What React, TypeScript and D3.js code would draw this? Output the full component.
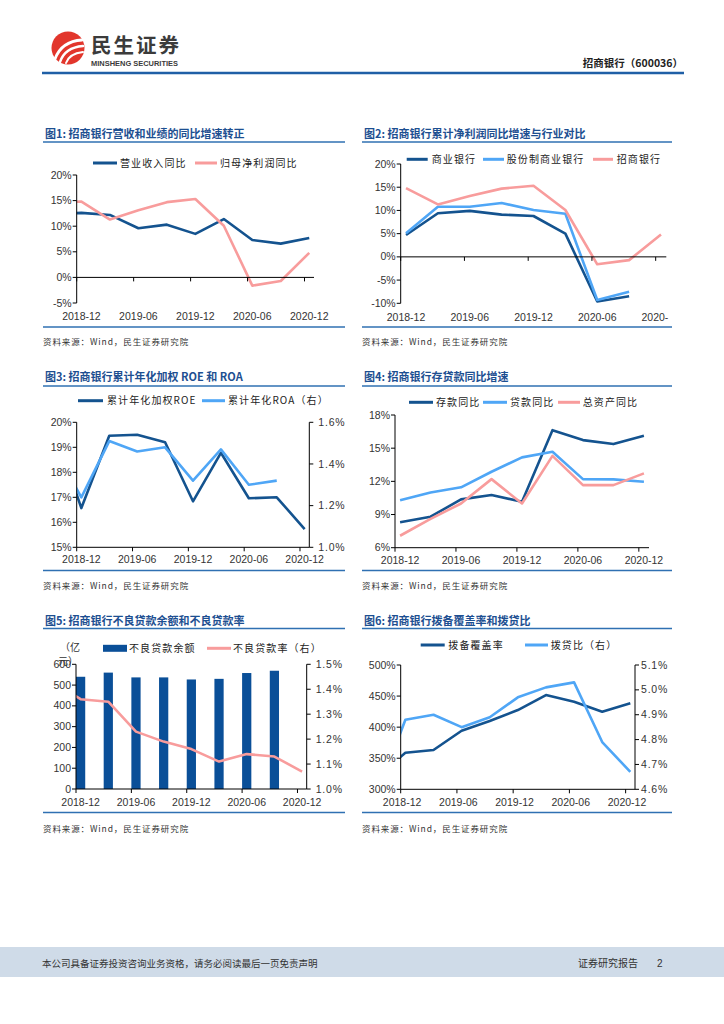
import React, { useEffect } from 'react';
import * as d3 from 'd3';

// quarter ends, 2018-09 is only partly visible (clipped at the axis)
const quarters = ['2018-09', '2018-12', '2019-03', '2019-06', '2019-09', '2019-12', '2020-03', '2020-06', '2020-09', '2020-12'];
const xTickLabels = ['2018-12', '2019-06', '2019-12', '2020-06', '2020-12'];

// Fig 1 (%)
const revenueYoY = [12.4, 12.6, 12.2, 9.6, 10.3, 8.5, 11.4, 7.3, 6.6, 7.7];
const netProfitYoY = [14.6, 14.8, 11.3, 13.1, 14.7, 15.3, 10.1, -1.6, -0.7, 4.8];
const fig1Ticks = [-5, 0, 5, 10, 15, 20];

// Fig 2 (%), from 2018-12
const banksYoY = [4.7, 9.4, 9.9, 9.1, 8.8, 5.0, -9.6, -8.5];
const jointStockYoY = [5.1, 10.8, 10.8, 11.6, 10.1, 9.3, -9.3, -7.5];
const cmbYoY = [14.8, 11.3, 13.1, 14.7, 15.3, 10.1, -1.6, -0.7, 4.8];
const fig2Ticks = [-10, -5, 0, 5, 10, 15, 20];

// Fig 3 (%)
const roe = [19.8, 16.57, 19.46, 19.5, 19.2, 16.84, 18.78, 16.96, 17.0, 15.73];
const roa = [1.48, 1.24, 1.51, 1.46, 1.48, 1.32, 1.47, 1.30, 1.32];
const roeTicks = [15, 16, 17, 18, 19, 20];
const roaTicks = [1.0, 1.2, 1.4, 1.6];

// Fig 4 (%), from 2018-12
const depositYoY = [8.3, 8.8, 10.37, 10.76, 10.16, 16.63, 15.73, 15.37, 16.12];
const loanYoY = [10.3, 11.0, 11.46, 12.87, 14.17, 14.67, 12.2, 12.18, 11.96];
const assetYoY = [7.08, 8.6, 10.0, 12.2, 10.0, 14.3, 11.66, 11.66, 12.72];
const fig4Ticks = [6, 9, 12, 15, 18];

// Fig 5: NPL balance (亿元, from 2018-12) and NPL ratio (%)
const nplBalance = [540, 560, 537, 537, 527, 530, 558, 569];
const nplRatio = [1.43, 1.36, 1.35, 1.23, 1.19, 1.16, 1.11, 1.14, 1.13, 1.07];
const nplTicks = [0, 100, 200, 300, 400, 500, 600];
const nplRatioTicks = [1.0, 1.1, 1.2, 1.3, 1.4, 1.5];

// Fig 6 (%)
const coverage = [320, 358.8, 363.2, 394.2, 409.8, 427.5, 451.6, 440.8, 424.8, 438.3];
const provisionToLoan = [4.58, 4.88, 4.9, 4.85, 4.89, 4.97, 5.01, 5.03, 4.79, 4.67];
const coverageTicks = [300, 350, 400, 450, 500];
const provisionTicks = [4.6, 4.7, 4.8, 4.9, 5.0, 5.1];

const NUM = '"Liberation Sans", Arial, sans-serif';
const CJK = '"Noto Sans CJK SC", "Noto Sans", sans-serif';
const NAVY = '#14538f';
const SKY = '#4fa6f6';
const PINK = '#f89c9c';
const BAR = '#0a4f98';
const RULE = '#2f70b2';
const TITLE = '#1d4f91';

const monthIndex = (q: string) => {
  const [y, m] = q.split('-').map(Number);
  return (y - 2018) * 12 + (m - 12);
};

type Series = { values: number[]; from: string; color: string; right?: boolean };
type LegendItem = { label: string; color: string; x: number; w: number; tx: number; bar?: boolean };
type Cfg = {
  id: string;
  left: number; right: number;
  title: string; titleY: number; ruleY: number; bottomY: number; sourceY: number;
  legendY: number; legend: LegendItem[];
  x0: number; x1: number; yTop: number; yBot: number;
  yTicks: number[]; yFmt: (v: number) => string;
  rTicks?: number[]; rFmt?: (v: number) => string; rGap?: number;
  zeroAxis?: boolean;
  series: Series[];
  bars?: { values: number[]; from: string; color: string };
  xLabelY: number; labelShift: number; truncateLast?: boolean;
  unit?: boolean;
};

const pct0 = (v: number) => `${v}%`;
const pct1 = (v: number) => `${v.toFixed(1)}%`;

const charts: Cfg[] = [
  {
    id: 'c1', left: 43, right: 345,
    title: '图1: 招商银行营收和业绩的同比增速转正', titleY: 137.5, ruleY: 142, bottomY: 327, sourceY: 344.5,
    legendY: 163,
    legend: [
      { label: '营业收入同比', color: NAVY, x: 93, w: 24, tx: 120 },
      { label: '归母净利润同比', color: PINK, x: 195, w: 22, tx: 220 },
    ],
    x0: 76.7, x1: 314, yTop: 175, yBot: 303, yTicks: fig1Ticks, yFmt: pct0, zeroAxis: true,
    series: [
      { values: revenueYoY, from: '2018-09', color: NAVY },
      { values: netProfitYoY, from: '2018-09', color: PINK },
    ],
    xLabelY: 319.5, labelShift: 0.5,
  },
  {
    id: 'c2', left: 362, right: 672,
    title: '图2: 招商银行累计净利润同比增速与行业对比', titleY: 137.5, ruleY: 142, bottomY: 327, sourceY: 344.5,
    legendY: 159.3,
    legend: [
      { label: '商业银行', color: NAVY, x: 406.7, w: 21, tx: 431.7 },
      { label: '股份制商业银行', color: SKY, x: 483, w: 21, tx: 506.7 },
      { label: '招商银行', color: PINK, x: 593, w: 20, tx: 616.7 },
    ],
    x0: 400.7, x1: 666.3, yTop: 164, yBot: 303.3, yTicks: fig2Ticks, yFmt: pct0, zeroAxis: true,
    series: [
      { values: banksYoY, from: '2018-12', color: NAVY },
      { values: jointStockYoY, from: '2018-12', color: SKY },
      { values: cmbYoY, from: '2018-12', color: PINK },
    ],
    xLabelY: 321, labelShift: 0.5, truncateLast: true,
  },
  {
    id: 'c3', left: 43, right: 345,
    title: '图3: 招商银行累计年化加权 ROE 和 ROA', titleY: 381, ruleY: 386, bottomY: 570.5, sourceY: 588.5,
    legendY: 400.7,
    legend: [
      { label: '累计年化加权ROE', color: NAVY, x: 78, w: 25, tx: 107 },
      { label: '累计年化ROA（右）', color: SKY, x: 202, w: 23, tx: 228 },
    ],
    x0: 76.7, x1: 309.3, yTop: 422.3, yBot: 547.3, yTicks: roeTicks, yFmt: pct0,
    rTicks: roaTicks, rFmt: pct1, rGap: 9,
    series: [
      { values: roe, from: '2018-09', color: NAVY },
      { values: roa, from: '2018-09', color: SKY, right: true },
    ],
    xLabelY: 563, labelShift: 0.5,
  },
  {
    id: 'c4', left: 362, right: 672,
    title: '图4: 招商银行存贷款同比增速', titleY: 381, ruleY: 386, bottomY: 570.5, sourceY: 588.5,
    legendY: 402.3,
    legend: [
      { label: '存款同比', color: NAVY, x: 409, w: 24, tx: 436 },
      { label: '贷款同比', color: SKY, x: 483, w: 24, tx: 510 },
      { label: '总资产同比', color: PINK, x: 558, w: 22, tx: 582.7 },
    ],
    x0: 395, x1: 649, yTop: 415, yBot: 547.7, yTicks: fig4Ticks, yFmt: pct0,
    series: [
      { values: depositYoY, from: '2018-12', color: NAVY },
      { values: loanYoY, from: '2018-12', color: SKY },
      { values: assetYoY, from: '2018-12', color: PINK },
    ],
    xLabelY: 564, labelShift: 0.5,
  },
  {
    id: 'c5', left: 43, right: 345,
    title: '图5: 招商银行不良贷款余额和不良贷款率', titleY: 625, ruleY: 628.5, bottomY: 812.5, sourceY: 832,
    legendY: 648.3,
    legend: [
      { label: '不良贷款余额', color: BAR, x: 103, w: 24, tx: 129, bar: true },
      { label: '不良贷款率（右）', color: PINK, x: 207, w: 24, tx: 233 },
    ],
    x0: 76, x1: 306.7, yTop: 664.3, yBot: 789, yTicks: nplTicks, yFmt: (v) => `${v}`,
    rTicks: nplRatioTicks, rFmt: pct1, rGap: 9,
    bars: { values: nplBalance, from: '2018-12', color: BAR },
    series: [{ values: nplRatio, from: '2018-09', color: PINK, right: true }],
    xLabelY: 805.5, labelShift: 0.5, unit: true,
  },
  {
    id: 'c6', left: 362, right: 672,
    title: '图6: 招商银行拨备覆盖率和拨贷比', titleY: 625, ruleY: 628.5, bottomY: 812.5, sourceY: 832,
    legendY: 645,
    legend: [
      { label: '拨备覆盖率', color: NAVY, x: 420.7, w: 24, tx: 448.3 },
      { label: '拨贷比（右）', color: SKY, x: 525, w: 23, tx: 550.7 },
    ],
    x0: 400.7, x1: 635, yTop: 665, yBot: 789.3, yTicks: coverageTicks, yFmt: pct0,
    rTicks: provisionTicks, rFmt: pct1, rGap: 6,
    series: [
      { values: coverage, from: '2018-09', color: NAVY },
      { values: provisionToLoan, from: '2018-09', color: SKY, right: true },
    ],
    xLabelY: 805.5, labelShift: 0.15,
  },
];

const Chart: React.FC<{ c: Cfg }> = ({ c }) => {
  const xs = d3.scaleLinear().domain([0, 25]).range([c.x0, c.x1]);
  const ys = d3.scaleLinear().domain(d3.extent(c.yTicks) as [number, number]).range([c.yBot, c.yTop]);
  const yr = c.rTicks
    ? d3.scaleLinear().domain(d3.extent(c.rTicks) as [number, number]).range([c.yBot, c.yTop])
    : ys;
  const axisY = c.zeroAxis ? ys(0) : c.yBot;
  const clipId = `clip-${c.id}`;
  const start = (q: string) => quarters.indexOf(q);

  const paths = c.series.map((s) => {
    const sc = s.right ? yr : ys;
    const pts = s.values.map((v, i) => [monthIndex(quarters[start(s.from) + i]) + 0.5, v] as [number, number]);
    const line = d3.line<[number, number]>().x((d) => xs(d[0])).y((d) => sc(d[1]));
    return { d: line(pts) || '', color: s.color };
  });

  const tickMonths = xTickLabels.map(monthIndex);

  return (
    <g>
      <defs>
        <clipPath id={clipId}>
          <rect x={c.x0} y={c.yTop - 20} width={c.x1 - c.x0} height={c.yBot - c.yTop + 40} />
        </clipPath>
      </defs>
      {/* title and rules */}
      <text x={c.left + 2} y={c.titleY} fontFamily={CJK} fontSize={11} fontWeight={700} fill={TITLE}>{c.title}</text>
      <line x1={c.left} x2={c.right} y1={c.ruleY} y2={c.ruleY} stroke={RULE} strokeWidth={1.5} />
      <line x1={c.left} x2={c.right} y1={c.bottomY} y2={c.bottomY} stroke={RULE} strokeWidth={1.5} />
      <text x={c.left} y={c.sourceY} fontFamily={CJK} fontSize={8.5} fill="#333" letterSpacing={0.9}>资料来源：Wind，民生证券研究院</text>

      {/* legend */}
      {c.legend.map((l) => (
        <g key={l.label}>
          {l.bar
            ? <rect x={l.x} y={c.legendY - 3.5} width={l.w} height={7} fill={l.color} />
            : <line x1={l.x} x2={l.x + l.w} y1={c.legendY} y2={c.legendY} stroke={l.color} strokeWidth={3} />}
          <text x={l.tx} y={c.legendY + 3.6} fontFamily={CJK} fontSize={10} fill="#222" letterSpacing={1.1}>{l.label}</text>
        </g>
      ))}

      {/* bars */}
      {c.bars && c.bars.values.map((v, i) => {
        const m = monthIndex(quarters[start(c.bars!.from) + i]);
        return <rect key={i} x={xs(m)} y={ys(v)} width={xs(m + 1) - xs(m)} height={ys(0) - ys(v)} fill={c.bars!.color} />;
      })}

      {/* lines */}
      <g clipPath={`url(#${clipId})`}>
        {paths.map((p, i) => (
          <path key={i} d={p.d} fill="none" stroke={p.color} strokeWidth={2.6} strokeLinejoin="round" strokeLinecap="butt" />
        ))}
      </g>

      {/* left axis */}
      <line x1={c.x0} x2={c.x0} y1={c.yTop} y2={c.yBot} stroke="#000" strokeWidth={1} />
      {c.yTicks.map((t) => (
        <g key={`l${t}`}>
          <line x1={c.x0 - 4} x2={c.x0} y1={ys(t)} y2={ys(t)} stroke="#000" />
          <text x={c.x0 - 5} y={ys(t) + 3.6} textAnchor="end" fontFamily={NUM} fontSize={10.5} fill="#333">{c.yFmt(t)}</text>
        </g>
      ))}

      {/* right axis */}
      {c.rTicks && (
        <g>
          <line x1={c.x1} x2={c.x1} y1={c.yTop} y2={c.yBot} stroke="#000" strokeWidth={1} />
          {c.rTicks.map((t) => (
            <g key={`r${t}`}>
              <line x1={c.x1} x2={c.x1 + 4} y1={yr(t)} y2={yr(t)} stroke="#000" />
              <text x={c.x1 + (c.rGap || 8)} y={yr(t) + 3.6} fontFamily={NUM} fontSize={10.5} fill="#333" letterSpacing={0.8}>{c.rFmt!(t)}</text>
            </g>
          ))}
        </g>
      )}

      {/* x axis */}
      <line x1={c.x0} x2={c.x1} y1={axisY} y2={axisY} stroke="#000" strokeWidth={1} />
      {tickMonths.map((m, i) => {
        const last = c.truncateLast && i === tickMonths.length - 1;
        const cx = xs(m + c.labelShift);
        return (
          <g key={m}>
            <line x1={xs(m)} x2={xs(m)} y1={axisY} y2={axisY + 4} stroke="#000" />
            <text x={last ? cx - 19.5 : cx} y={c.xLabelY} textAnchor={last ? 'start' : 'middle'} fontFamily={NUM} fontSize={10.5} fill="#333">
              {last ? xTickLabels[i].slice(0, 5) : xTickLabels[i]}
            </text>
          </g>
        );
      })}

      {c.unit && (
        <g fontFamily={CJK} fontSize={10} fill="#333">
          <text x={60} y={651}>（亿</text>
          <text x={58} y={665}>元）</text>
        </g>
      )}
    </g>
  );
};

const Header: React.FC = () => (
  <g>
    <circle cx={68} cy={48} r={16.5} fill="#e2362c" />
    <path d="M55,59 C59,48 67,41 82,40" fill="none" stroke="#fff" strokeWidth={2.8} strokeLinecap="round" />
    <path d="M60,62 C63,53 71,47 83,46" fill="none" stroke="#fff" strokeWidth={2.4} strokeLinecap="round" />
    <path d="M66,63 C68,57 74,53 83,52" fill="none" stroke="#fff" strokeWidth={2} strokeLinecap="round" />
    <text x={91} y={52.5} fontFamily={CJK} fontSize={20.5} fontWeight={700} fill="#3b3b3b" letterSpacing={2}>民生证券</text>
    <text x={91} y={66} fontFamily={NUM} fontSize={7.3} fontWeight={700} fill="#3b3b3b" textLength={87} lengthAdjust="spacingAndGlyphs">MINSHENG SECURITIES</text>
    <text x={683} y={67} textAnchor="end" fontFamily={CJK} fontSize={10.5} fontWeight={700} fill="#222">招商银行（600036）</text>
    <line x1={42} x2={684} y1={73} y2={73} stroke="#1f5fa6" strokeWidth={2.5} />
  </g>
);

const Footer: React.FC = () => (
  <g>
    <rect x={0} y={947} width={724} height={30} fill="#cfdbe8" />
    <text x={42} y={967} fontFamily={CJK} fontSize={9.5} fill="#333">本公司具备证券投资咨询业务资格，请务必阅读最后一页免责声明</text>
    <text x={578} y={967} fontFamily={CJK} fontSize={10} fill="#333">证券研究报告</text>
    <text x={657} y={967} fontFamily={NUM} fontSize={10} fill="#333">2</text>
  </g>
);

export default function App() {
  useEffect(() => {
    document.body.style.margin = '0';
  }, []);
  return (
    <svg width={724} height={1024} style={{ position: 'absolute', left: 0, top: 0, background: '#fff' }}>
      <Header />
      {charts.map((c) => <Chart key={c.id} c={c} />)}
      <Footer />
    </svg>
  );
}
